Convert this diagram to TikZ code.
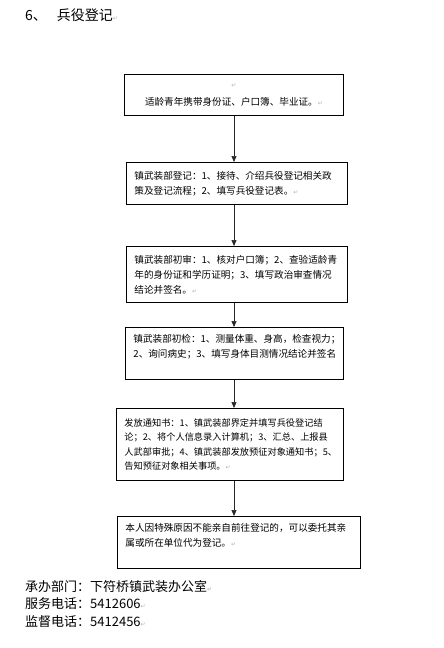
\documentclass[tikz,border=0pt]{standalone}
\usepackage{fontspec}
\usepackage{xcolor}
\usepackage{tikz}
\usetikzlibrary{arrows.meta}
\newfontfamily\cjk{Noto Sans CJK SC}
\newfontfamily\symfont{DejaVu Sans}
\newcommand\retmark{{\symfont\color{gray!60}\fontsize{6}{6}\selectfont ↵}}

\begin{document}
\begin{tikzpicture}[
    x=1pt, y=1pt,
    stepbox/.style={rectangle, draw, line width=0.9pt, anchor=north west, align=left, inner xsep=8pt, inner ysep=0pt, font=\cjk\fontsize{9.6}{15}\selectfont},
    arr/.style={-{Triangle[length=6pt,width=5pt]}, line width=0.7pt, black!85},
    headline/.style={anchor=west, inner sep=0pt, font=\cjk\fontsize{14}{14}\selectfont},
    footline/.style={anchor=west, inner sep=0pt, font=\cjk\fontsize{13}{13}\selectfont},
]
\useasboundingbox[fill=white] (0,0) rectangle (444,-648);

% === TITLE ===
\node[headline] (title) at (25,-15) {6、\hspace{10pt}兵役登记\retmark};

% === STEPS ===
\node[stepbox, align=center, text width=203pt, minimum height=41pt] (bring)
    at (124,-74) {\retmark\\[3pt]适龄青年携带身份证、户口簿、毕业证。\retmark};
\node[stepbox, text width=205pt, minimum height=42pt] (register)
    at (126,-162) {镇武装部登记：1、接待、介绍兵役登记相关政\\
    策及登记流程；2、填写兵役登记表。\retmark};
\node[stepbox, text width=205pt, minimum height=56pt] (review)
    at (126,-246) {镇武装部初审：1、核对户口簿；2、查验适龄青\\
    年的身份证和学历证明；3、填写政治审查情况\\
    结论并签名。\retmark};
\node[stepbox, text width=202pt, minimum height=52pt] (exam)
    at (125,-327) {镇武装部初检：1、测量体重、身高，检查视力；\\
    2、询问病史；3、填写身体目测情况结论并签名\\\mbox{}};
\node[stepbox, text width=211pt, minimum height=72pt, font=\cjk\fontsize{9.2}{14.5}\selectfont] (notice)
    at (116,-408) {发放通知书：1、镇武装部界定并填写兵役登记结\\
    论；2、将个人信息录入计算机；3、汇总、上报县\\
    人武部审批；4、镇武装部发放预征对象通知书；5、\\
    告知预征对象相关事项。\retmark};
\node[stepbox, text width=227pt, minimum height=52pt] (proxy)
    at (117,-516) {本人因特殊原因不能亲自前往登记的，可以委托其亲\\
    属或所在单位代为登记。\retmark\\\mbox{}};

% === ARROWS DOWN ===
\coordinate (axis) at (234,0);
\draw[arr] (bring.south -| axis)    -- (register.north -| axis);
\draw[arr] (register.south -| axis) -- (review.north -| axis);
\draw[arr] (review.south -| axis)   -- (exam.north -| axis);
\draw[arr] (exam.south -| axis)     -- (notice.north -| axis);
\draw[arr] (notice.south -| axis)   -- (proxy.north -| axis);

% === CONTACTS ===
\node[footline] (office) at (25,-587) {承办部门：下符桥镇武装办公室\retmark};
\node[footline] (service) at (25,-604) {服务电话：5412606\retmark};
\node[footline] (supervise) at (25,-622) {监督电话：5412456\retmark};

\end{tikzpicture}
\end{document}
